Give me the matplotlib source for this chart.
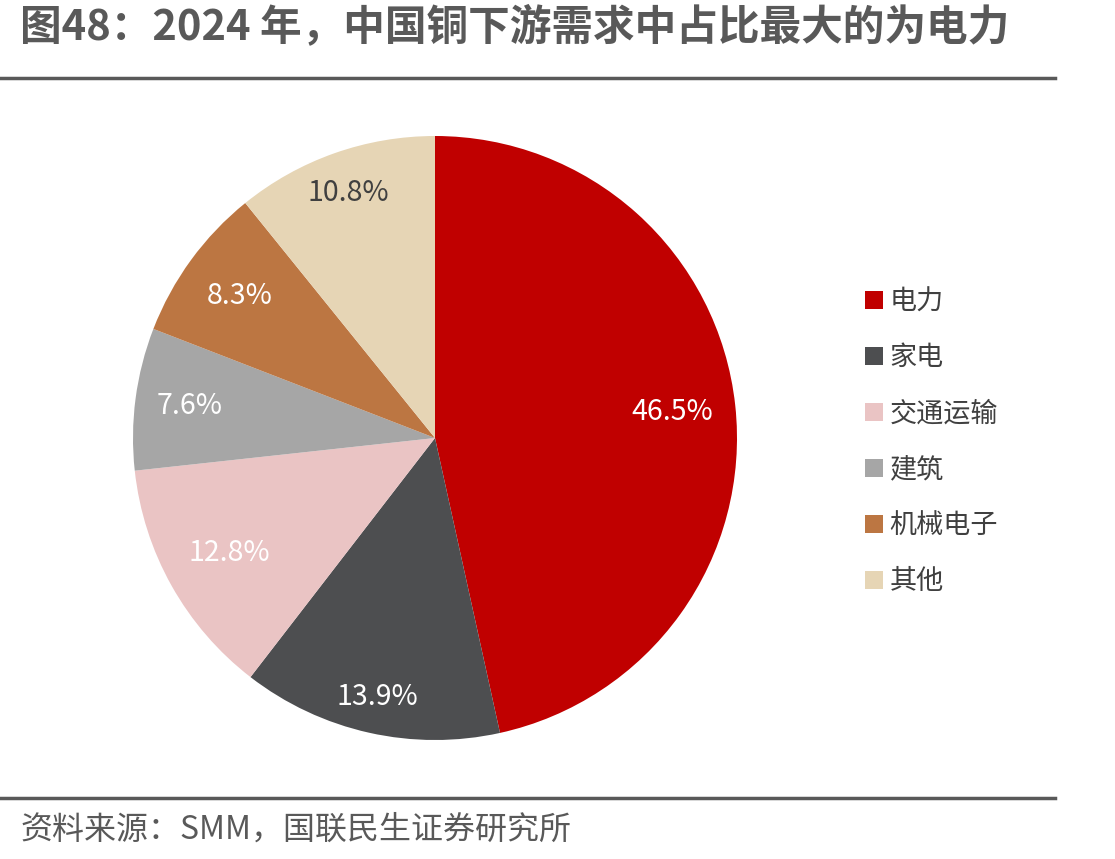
import numpy as np
import matplotlib as mpl
mpl.use('Agg')
import matplotlib.pyplot as plt

plt.rcParams['font.family'] = ['Noto Sans CJK SC', 'DejaVu Sans']

# 2024 china copper downstream demand share (%)
sectors = ['电力', '家电', '交通运输', '建筑', '机械电子', '其他']
shares = [46.5, 13.9, 12.8, 7.6, 8.3, 10.8]
colors = ['#C00000', '#4D4E50', '#EAC4C4', '#A6A6A6', '#BC7642', '#E6D5B5']
label_colors = ['white', 'white', 'white', 'white', 'white', '#404040']
label_r = [0.79, 0.88, 0.78, 0.82, 0.80, 0.86]

title = '图48：2024 年，中国铜下游需求中占比最大的为电力'
source = '资料来源：SMM，国联民生证券研究所'

fig = plt.figure(figsize=(11.15, 8.59), dpi=100)

# pie, center ~ (435, 438), radius ~302 px
ax = fig.add_axes([(435 - 305) / 1115, 1 - (438 + 305) / 859, 610 / 1115, 610 / 859])
R = 302 / 305
wedges, texts = ax.pie(shares, colors=colors, startangle=90, counterclock=False,
                       radius=R, wedgeprops=dict(linewidth=0))
for w, v, c, lr in zip(wedges, shares, label_colors, label_r):
    ang = np.deg2rad((w.theta1 + w.theta2) / 2)
    ax.text(lr * R * np.cos(ang), lr * R * np.sin(ang), f'{v:.1f}%', ha='center', va='center',
            fontsize=20.5, color=c)
ax.set_xlim(-1, 1)
ax.set_ylim(-1, 1)
ax.set_aspect('equal')

leg = fig.legend(wedges, sectors, loc='upper left', bbox_to_anchor=(841 / 1115, 1 - 264 / 859),
                 frameon=False, fontsize=19.5, handlelength=0.65, handleheight=0.65,
                 handletextpad=0.25, labelspacing=1.07)
for t in leg.get_texts():
    t.set_color('#404040')

fig.text(20 / 1115, 1 - 27 / 859, title, fontsize=30, fontweight='bold', color='#595959',
         ha='left', va='center')
fig.add_artist(plt.Line2D([0, 1055 / 1115], [1 - 78 / 859] * 2, color='#595959', lw=2.5))
fig.add_artist(plt.Line2D([0, 1055 / 1115], [1 - 798 / 859] * 2, color='#595959', lw=2.5))
fig.text(20 / 1115, 1 - 830 / 859, source, fontsize=23, color='#595959', ha='left', va='center')

fig.savefig('out.png', dpi=100)
